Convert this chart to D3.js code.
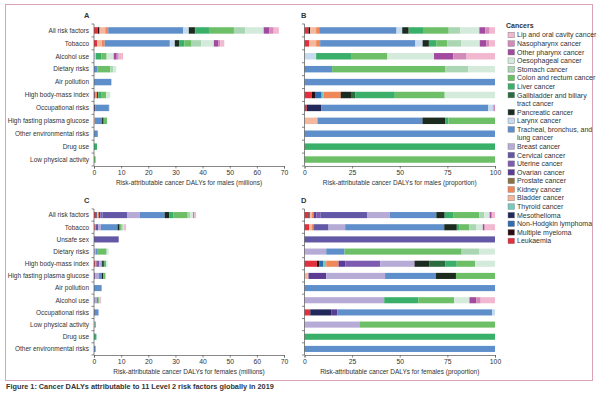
<!DOCTYPE html>
<html>
<head>
<meta charset="utf-8">
<script src="https://cdn.jsdelivr.net/npm/d3@7"></script>
<style>
  body { margin: 0; background: #fff; }
  text { font-family: "Liberation Sans Narrow", "Liberation Sans", sans-serif; fill: #333; }
</style>
</head>
<body>
<div id="chart"></div>
<script>
// legend order (top to bottom); bars are stacked in the reverse order
const cancerKeys = ["lip", "naso", "pharynx", "oeso", "stomach", "colon", "liver", "gall", "pancreas", "larynx", "lung",
  "breast", "cervix", "uterus", "ovary", "prostate", "kidney", "bladder", "thyroid", "meso", "nhl", "myeloma", "leuk"];
const cancerLabels = [["Lip and oral cavity cancer"], ["Nasopharynx cancer"], ["Other pharynx cancer"], ["Oesophageal cancer"],
  ["Stomach cancer"], ["Colon and rectum cancer"], ["Liver cancer"], ["Gallbladder and biliary", "tract cancer"],
  ["Pancreatic cancer"], ["Larynx cancer"], ["Tracheal, bronchus, and", "lung cancer"], ["Breast cancer"],
  ["Cervical cancer"], ["Uterine cancer"], ["Ovarian cancer"], ["Prostate cancer"], ["Kidney cancer"],
  ["Bladder cancer"], ["Thyroid cancer"], ["Mesothelioma"], ["Non-Hodgkin lymphoma"], ["Multiple myeloma"], ["Leukaemia"]];
const cancerColors = ["#f2b8d0", "#d48ab8", "#a24aa0", "#d4eadb", "#abd6b3", "#6dbf67", "#3aaf6a", "#2a6b40", "#1b2b20",
  "#c7dbef", "#5f8fca", "#b6aad6", "#6258a6", "#7d5bb0", "#5a3c94", "#8c7242", "#ef8758", "#f3b89e", "#78c8bc",
  "#22295a", "#2f6db3", "#2b0d10", "#e2303d"];

const maleRisks = ["All risk factors", "Tobacco", "Alcohol use", "Dietary risks", "Air pollution", "High body-mass index",
  "Occupational risks", "High fasting plasma glucose", "Other environmental risks", "Drug use", "Low physical activity"];
// millions of DALYs
const maleTotals = [68.1, 48.0, 10.7, 8.2, 6.4, 6.0, 5.7, 4.8, 1.4, 1.1, 0.6];
// percentage composition by cancer
const maleShares = [
  [["leuk", 2.1], ["myeloma", 0.9], ["bladder", 3.1], ["kidney", 1.6], ["lung", 40.6], ["larynx", 3.0], ["pancreas", 3.3],
   ["gall", 0.3], ["liver", 7.3], ["colon", 13.5], ["stomach", 6.1], ["oeso", 10.0], ["pharynx", 3.1], ["naso", 2.3], ["lip", 2.8]],
  [["leuk", 2.4], ["bladder", 3.7], ["kidney", 2.1], ["lung", 50.0], ["larynx", 3.8], ["pancreas", 3.3], ["liver", 4.0],
   ["colon", 5.6], ["stomach", 7.5], ["oeso", 9.6], ["pharynx", 3.5], ["naso", 1.4], ["lip", 3.1]],
  [["larynx", 6.1], ["liver", 18.7], ["colon", 18.7], ["oeso", 24.5], ["pharynx", 10.1], ["naso", 7.0], ["lip", 14.9]],
  [["lung", 14.5], ["colon", 59.3], ["stomach", 12.2], ["oeso", 14.0]],
  [["lung", 100]],
  [["leuk", 3.8], ["myeloma", 1.7], ["nhl", 3.5], ["thyroid", 0.9], ["kidney", 9.1], ["pancreas", 5.4], ["gall", 2.4],
   ["liver", 20.6], ["colon", 26.2], ["oeso", 26.4]],
  [["leuk", 1.2], ["meso", 7.5], ["lung", 87.8], ["larynx", 2.6], ["naso", 0.9]],
  [["bladder", 6.8], ["lung", 55.1], ["pancreas", 11.9], ["liver", 1.7], ["colon", 24.5]],
  [["lung", 100]],
  [["liver", 100]],
  [["colon", 100]]
];

const femaleRisks = ["All risk factors", "Tobacco", "Unsafe sex", "Dietary risks", "High body-mass index",
  "High fasting plasma glucose", "Air pollution", "Alcohol use", "Occupational risks", "Low physical activity",
  "Drug use", "Other environmental risks"];
const femaleTotals = [37.6, 11.8, 9.1, 5.4, 5.0, 4.2, 2.8, 2.6, 1.7, 0.7, 0.9, 0.6];
const femaleShares = [
  [["leuk", 2.1], ["myeloma", 0.5], ["nhl", 0.4], ["bladder", 0.9], ["kidney", 0.9], ["ovary", 1.5], ["uterus", 2.0],
   ["cervix", 24.5], ["breast", 11.9], ["lung", 24.5], ["pancreas", 4.4], ["liver", 4.4], ["colon", 13.8],
   ["stomach", 2.6], ["oeso", 2.8], ["pharynx", 0.7], ["naso", 0.5], ["lip", 1.6]],
  [["leuk", 2.4], ["bladder", 1.5], ["kidney", 0.8], ["cervix", 7.9], ["breast", 8.7], ["lung", 51.9], ["pancreas", 6.6],
   ["liver", 1.5], ["colon", 5.1], ["stomach", 3.5], ["oeso", 3.5], ["pharynx", 0.7], ["naso", 0.5], ["lip", 5.2]],
  [["cervix", 100]],
  [["breast", 11.4], ["lung", 9.6], ["colon", 61.5], ["stomach", 9.1], ["oeso", 8.4]],
  [["leuk", 6.5], ["myeloma", 1.4], ["nhl", 2.1], ["thyroid", 1.4], ["kidney", 6.5], ["ovary", 3.5], ["uterus", 18.4],
   ["breast", 18.0], ["pancreas", 7.7], ["gall", 8.4], ["liver", 6.1], ["colon", 9.6], ["oeso", 10.5]],
  [["bladder", 2.1], ["ovary", 9.3], ["breast", 30.9], ["lung", 26.7], ["pancreas", 10.5], ["colon", 20.5]],
  [["lung", 100]],
  [["breast", 41.8], ["liver", 18.0], ["colon", 18.7], ["oeso", 8.0], ["pharynx", 3.5], ["naso", 2.4], ["lip", 7.5]],
  [["leuk", 3.0], ["meso", 11.0], ["ovary", 3.3], ["lung", 81.3], ["larynx", 1.4]],
  [["breast", 28.8], ["colon", 71.2]],
  [["liver", 100]],
  [["lung", 100]]
];

const millionTicks = [0, 10, 20, 30, 40, 50, 60, 70];
const shareTicks = [0, 25, 50, 75, 100];

const svg = d3.select("#chart")
  .append("svg")
    .attr("width", 600)
    .attr("height", 396);

const color = d3.scaleOrdinal().domain(cancerKeys).range(cancerColors);
const stackOrder = cancerKeys.slice().reverse();

// frame + caption
svg.append("rect")
  .attr("x", 5.5).attr("y", 4.5)
  .attr("width", 587).attr("height", 376)
  .attr("fill", "none")
  .attr("stroke", "#d9a3b5")
  .attr("stroke-width", 1);

svg.append("text")
  .text("Figure 1: Cancer DALYs attributable to 11 Level 2 risk factors globally in 2019")
  .attr("x", 6).attr("y", 389)
  .style("font-size", "7.3px")
  .style("font-weight", "bold");

const stackRow = (shares, scaleTo) => {
  const sorted = shares.slice().sort((a, b) => stackOrder.indexOf(a[0]) - stackOrder.indexOf(b[0]));
  const sum = d3.sum(sorted, d => d[1]);
  let acc = 0;
  return sorted.map(([c, v]) => {
    const x0 = acc;
    acc += v / sum * scaleTo;
    return { cancer: c, x0: x0, x1: acc };
  });
};

const drawPanel = p => {
  const g = svg.append("g");

  const xScale = d3.scaleLinear()
    .domain([0, p.max])
    .range([p.left, p.right]);

  const yScale = d3.scaleBand()
    .domain(p.risks)
    .range([p.top, p.bottom])
    .paddingInner(0.5)
    .paddingOuter(0.25);

  const rows = g.selectAll("g.row")
    .data(p.risks)
    .join("g")
    .attr("class", "row")
    .attr("transform", d => `translate(0, ${yScale(d)})`);

  rows.selectAll("rect")
    .data((d, i) => stackRow(p.shares[i], p.totals ? p.totals[i] : 100))
    .join("rect")
      .attr("x", d => xScale(d.x0))
      .attr("width", d => Math.max(0, xScale(d.x1) - xScale(d.x0)))
      .attr("y", 0)
      .attr("height", yScale.bandwidth())
      .attr("fill", d => color(d.cancer));

  if (p.labels) {
    rows.append("text")
      .text(d => d)
      .attr("x", p.left - 5)
      .attr("y", yScale.bandwidth() / 2)
      .attr("dy", "0.35em")
      .attr("text-anchor", "end")
      .style("font-size", "6.5px");
  }

  // y axis with ticks at band edges
  const edges = p.risks.map(d => yScale(d) - yScale.step() * 0.25).concat([p.bottom]);
  g.append("line")
    .attr("x1", p.left).attr("x2", p.left)
    .attr("y1", p.top).attr("y2", p.bottom)
    .attr("stroke", "#555").attr("stroke-width", 0.7);
  g.selectAll("line.ytick")
    .data(edges)
    .join("line")
    .attr("class", "ytick")
    .attr("x1", p.left - 2.5).attr("x2", p.left)
    .attr("y1", d => d).attr("y2", d => d)
    .attr("stroke", "#555").attr("stroke-width", 0.7);

  const xAxis = g.append("g")
    .attr("transform", `translate(0, ${p.bottom})`)
    .call(d3.axisBottom(xScale).tickValues(p.ticks).tickSize(2.5).tickPadding(1.5));
  xAxis.select(".domain").attr("stroke", "#555").attr("stroke-width", 0.7);
  xAxis.selectAll(".tick line").attr("stroke", "#555").attr("stroke-width", 0.7);
  xAxis.selectAll(".tick text")
    .attr("fill", "#333")
    .style("font-size", "6.8px")
    .style("font-family", "\"Liberation Sans Narrow\", \"Liberation Sans\", sans-serif");

  g.append("text")
    .text(p.title)
    .attr("x", (p.left + p.right) / 2)
    .attr("y", p.bottom + 19)
    .attr("text-anchor", "middle")
    .style("font-size", "6.5px");

  g.append("text")
    .text(p.letter)
    .attr("x", p.letterX)
    .attr("y", p.top - 6)
    .style("font-size", "7.5px")
    .style("font-weight", "bold");
};

drawPanel({ letter: "A", letterX: 84, risks: maleRisks, shares: maleShares, totals: maleTotals, max: 70,
  ticks: millionTicks, left: 94, right: 284, top: 24, bottom: 166, labels: true,
  title: "Risk-attributable cancer DALYs for males (millions)" });
drawPanel({ letter: "B", letterX: 301, risks: maleRisks, shares: maleShares, totals: null, max: 100,
  ticks: shareTicks, left: 304.5, right: 495, top: 24, bottom: 166, labels: false,
  title: "Risk-attributable cancer DALYs for males (proportion)" });
drawPanel({ letter: "C", letterX: 84, risks: femaleRisks, shares: femaleShares, totals: femaleTotals, max: 70,
  ticks: millionTicks, left: 94, right: 284, top: 209, bottom: 355, labels: true,
  title: "Risk-attributable cancer DALYs for females (millions)" });
drawPanel({ letter: "D", letterX: 301, risks: femaleRisks, shares: femaleShares, totals: null, max: 100,
  ticks: shareTicks, left: 304.5, right: 495, top: 209, bottom: 355, labels: false,
  title: "Risk-attributable cancer DALYs for females (proportion)" });

// legend
const legend = svg.append("g");
legend.append("text")
  .text("Cancers")
  .attr("x", 506).attr("y", 27.5)
  .style("font-size", "7px")
  .style("font-weight", "bold");

let line = 0;
const lineStep = 8.58;
cancerKeys.forEach((k, i) => {
  const cy = 35 + line * lineStep;
  legend.append("rect")
    .attr("x", 508).attr("y", cy - 2.8)
    .attr("width", 6.5).attr("height", 5.6)
    .attr("fill", cancerColors[i])
    .attr("stroke", "#777").attr("stroke-width", 0.4);
  cancerLabels[i].forEach((t, j) => {
    legend.append("text")
      .text(t)
      .attr("x", 517)
      .attr("y", cy + j * lineStep)
      .attr("dy", "0.35em")
      .style("font-size", "7px");
  });
  line += cancerLabels[i].length;
});
</script>
</body>
</html>
